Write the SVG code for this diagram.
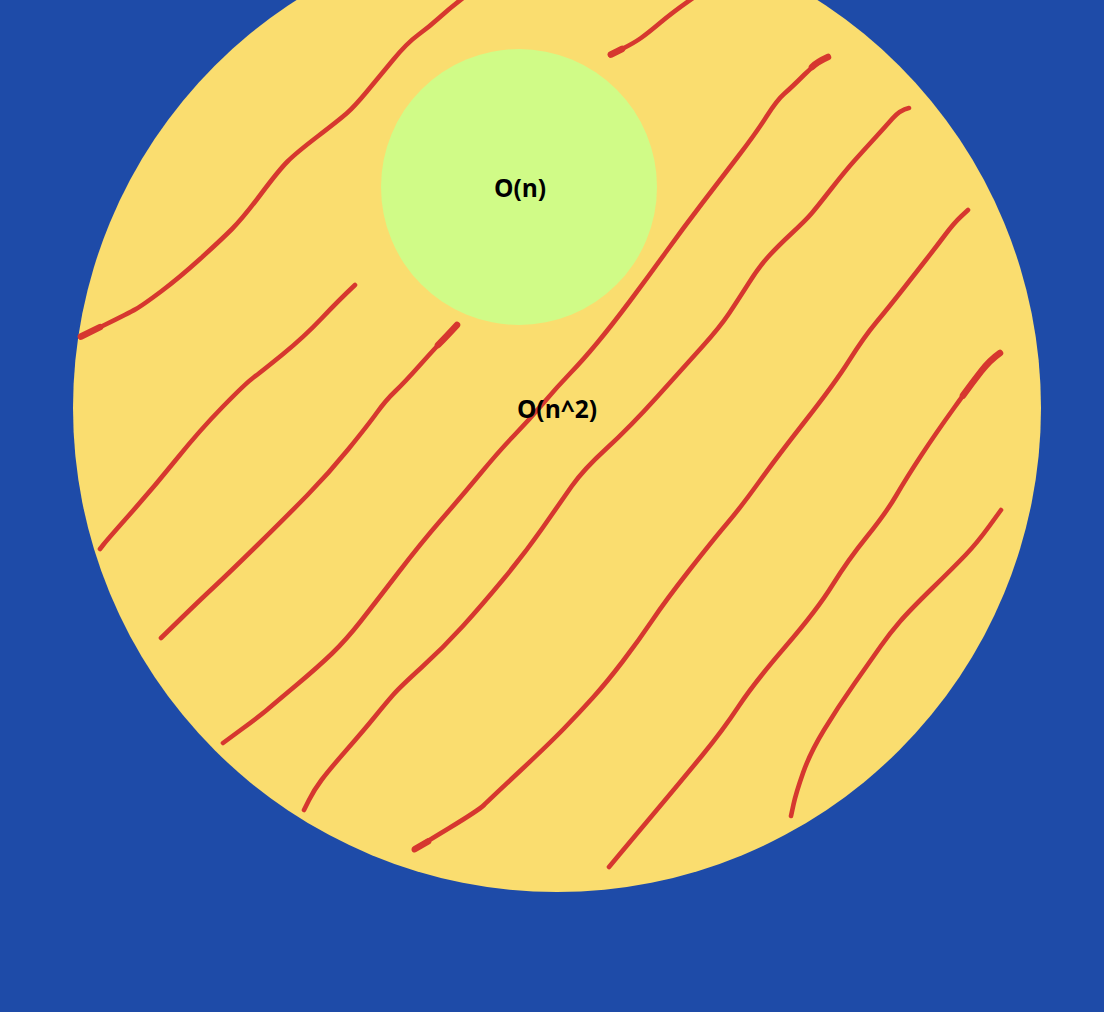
<svg xmlns="http://www.w3.org/2000/svg" width="1104" height="1012" viewBox="0 0 1104 1012">
<style>
.hatch{fill:none;stroke:#d6372f;stroke-width:4.6;stroke-linecap:round;stroke-linejoin:round}
.thick{fill:none;stroke:#d6372f;stroke-width:6.5;stroke-linecap:round;stroke-linejoin:round}
.lbl{font-family:"Open Sans","Noto Sans","Liberation Sans",sans-serif;font-weight:700;font-size:24.5px;fill:#000;text-anchor:middle}
</style>
<rect x="0" y="0" width="1104" height="1012" fill="#1e4ba8"/>
<g id="outer">
<circle cx="557" cy="408" r="484" fill="#fadd6f"/>
<g id="hachure">
<path class="hatch" d="M80,337 L104.5,325 Q129,313 136,309 Q143,305 161,291.5 Q179,278 200,259 Q221,240 232,229 Q243,218 261,194 Q279,170 287.5,161.5 Q296,153 317.5,136.5 Q339,120 346.5,113.5 Q354,107 366.5,92 Q379,77 393,60 Q407,43 418,35 Q429,27 439.5,17.5 Q450,8 463,-2"/>
<path class="hatch" d="M610,55 L622,49 Q634,43 641,38 Q648,33 660.5,22.5 Q673,12 693,-2"/>
<path class="hatch" d="M100,549 L103.5,544.5 Q107,540 130.5,513.5 Q154,487 177,458.5 Q200,430 223,406.5 Q246,383 253.5,377.5 Q261,372 282.5,354.5 Q304,337 321.5,318.5 Q339,300 355,285"/>
<path class="hatch" d="M161,638 L180.5,619 Q200,600 214.5,586.5 Q229,573 257.5,545 Q286,517 307.5,495 Q329,473 348.5,449 Q368,425 377,412.5 Q386,400 395,391.5 Q404,383 420,365 Q436,347 457,325"/>
<path class="hatch" d="M223,743 L242,729 Q261,715 268,709 Q275,703 296.5,685 Q318,667 332,653.5 Q346,640 360.5,621.5 Q375,603 398,573 Q421,543 441,520 Q461,497 480.5,473.5 Q500,450 514.5,435 Q529,420 543,403.5 Q557,387 570,373.5 Q583,360 597.5,342.5 Q612,325 630,301 Q648,277 666,252 Q684,227 702,203.5 Q720,180 738,156.5 Q756,133 766.5,116.5 Q777,100 784.5,93.5 Q792,87 804.5,74.5 Q817,62 828,57"/>
<path class="hatch" d="M304,810 L309,800 Q314,790 321.5,780 Q329,770 346.5,750 Q364,730 375,716.5 Q386,703 393,695 Q400,687 421.5,667.5 Q443,648 462.5,626.5 Q482,605 503.5,579 Q525,553 542.5,528 Q560,503 571.5,486.5 Q583,470 606.5,448.5 Q630,427 657,397 Q684,367 702,347 Q720,327 729,313.5 Q738,300 748.5,283.5 Q759,267 768,257 Q777,247 791.5,233.5 Q806,220 811.5,213.5 Q817,207 831.5,188.5 Q846,170 855,160 Q864,150 874.5,138.5 Q885,127 892.5,118.5 Q900,110 909,108"/>
<path class="hatch" d="M414,850 L416,848.5 Q418,847 448.5,828.5 Q479,810 484,805 Q489,800 519.5,771.5 Q550,743 564.5,728 Q579,713 593,697.5 Q607,682 623,661 Q639,640 652.5,620 Q666,600 689.5,570 Q713,540 727,523.5 Q741,507 759,482 Q777,457 806,420 Q835,383 849.5,360 Q864,337 876.5,322 Q889,307 903.5,288.5 Q918,270 927,258.5 Q936,247 945,235 Q954,223 961,216.5 L968,210"/>
<path class="hatch" d="M609,867 L619,855 Q629,843 655.5,811.5 Q682,780 702.5,755 Q723,730 738.5,706.5 Q754,683 785.5,646.5 Q817,610 832.5,585 Q848,560 867,536.5 Q886,513 896.5,495 Q907,477 921.5,455 Q936,433 954,408 Q972,383 981,371.5 Q990,360 1000,353"/>
<path class="hatch" d="M791,816 L793.5,804.5 Q796,793 803,773 Q810,753 824,730 Q838,707 854.5,683.5 Q871,660 880.5,646.5 Q890,633 900,621.5 Q910,610 932,588.5 Q954,567 965.5,555 Q977,543 989,526.5 L1001,510"/>
<path class="thick" d="M963,395.5 Q972,383 981,371.5 Q990,360 1000,353"/>
<path class="thick" d="M81,336.5 L100,327.2"/>
<path class="thick" d="M438,345 Q446,337 457,325"/>
<path class="thick" d="M812,67 Q817,62 828,57"/>
<path class="thick" d="M611,54.5 L622,49"/>
<path class="thick" d="M415,849 L428,841.5"/>
</g>
<text class="lbl" x="557" y="418">O(n^2)</text>
</g>
<g id="inner">
<circle cx="519" cy="187" r="138" fill="#d0fb87"/>
<text class="lbl" x="520" y="197">O(n)</text>
</g>
</svg>
